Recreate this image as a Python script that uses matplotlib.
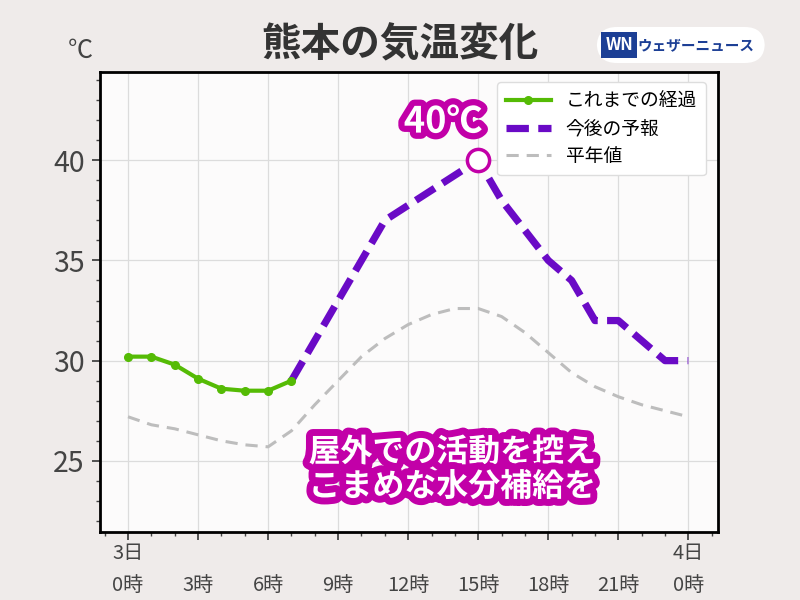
import matplotlib.pyplot as plt
import matplotlib.patheffects as pe
from matplotlib.patches import FancyBboxPatch
from matplotlib.ticker import MultipleLocator

plt.rcParams['font.family'] = ['Noto Sans CJK JP', 'DejaVu Sans']

# hours from 3日 0時
past_hours = [0, 1, 2, 3, 4, 5, 6, 7]
past_temp = [30.2, 30.2, 29.8, 29.1, 28.6, 28.5, 28.5, 29.0]

fc_hours = [7, 8, 9, 10, 11, 12, 13, 14, 15, 16, 17, 18, 19, 20, 21, 22, 23, 24]
fc_temp = [29.0, 31.0, 33.0, 35.0, 37.0, 37.75, 38.5, 39.25, 40.0,
           38.0, 36.5, 35.0, 34.0, 32.0, 32.0, 31.0, 30.0, 30.0]

norm_hours = list(range(25))
norm_temp = [27.2, 26.8, 26.6, 26.3, 26.0, 25.8, 25.7, 26.5, 27.8, 29.0,
             30.2, 31.1, 31.8, 32.3, 32.6, 32.6, 32.2, 31.4, 30.4, 29.4,
             28.7, 28.2, 27.8, 27.5, 27.2]

peak_hour = 15
peak_temp = 40.0

tick_hours = [0, 3, 6, 9, 12, 15, 18, 21, 24]
tick_labels = ['3日\n0時', '\n3時', '\n6時', '\n9時', '\n12時', '\n15時',
               '\n18時', '\n21時', '4日\n0時']

bg = '#efebea'
magenta = '#c200a8'
purple = '#6a0ac6'
green = '#55bb05'

fig = plt.figure(figsize=(8, 6), dpi=100, facecolor=bg)
ax = fig.add_axes([0.125, 0.1133, 0.7725, 0.7667])
ax.set_facecolor('#fcfbfb')

ax.plot(norm_hours, norm_temp, color='#bdbdbd', lw=2.2, dashes=(4, 2.6),
        label='平年値', zorder=2)
ax.plot(fc_hours, fc_temp, color=purple, lw=5.2, dashes=(3.1, 1.3),
        solid_capstyle='butt', dash_capstyle='butt', label='今後の予報', zorder=3)
ax.plot(past_hours, past_temp, color=green, lw=3, marker='o', ms=5.5,
        label='これまでの経過', zorder=4)
ax.plot([peak_hour], [peak_temp], marker='o', ms=16, mfc='white', mec=magenta,
        mew=2.5, zorder=5)

ax.text(13.5, 41.9, '40℃', fontsize=26, fontweight='bold', color='white',
        ha='center', va='center',
        path_effects=[pe.withStroke(linewidth=9, foreground=magenta)], zorder=6)
ax.text(13.9, 24.55, '屋外での活動を控え\nこまめな水分補給を', fontsize=23,
        fontweight='bold', color='white', ha='center', va='center',
        linespacing=1.1, path_effects=[pe.withStroke(linewidth=10, foreground=magenta)],
        zorder=6)

ax.set_xlim(-1.2, 25.27)
ax.set_ylim(21.45, 44.4)
ax.set_xticks(tick_hours)
ax.set_xticklabels(tick_labels, fontsize=14.5, color='#444444', linespacing=1.65)
ax.xaxis.set_minor_locator(MultipleLocator(1))
ax.set_yticks([25, 30, 35, 40])
ax.yaxis.set_minor_locator(MultipleLocator(1))
ax.tick_params(axis='y', labelsize=20.5, colors='#444444', length=6, width=1.3, pad=5)
ax.tick_params(axis='x', length=6, width=1.3, pad=2, colors='#444444')
ax.tick_params(which='minor', length=3, width=1, colors='#444444')
ax.grid(True, color='#dcdcdc', lw=0.9, zorder=0)
for s in ax.spines.values():
    s.set_linewidth(2)
    s.set_color('black')

handles, labels = ax.get_legend_handles_labels()
order = [2, 1, 0]
leg = ax.legend([handles[i] for i in order], [labels[i] for i in order],
                loc='upper right', fontsize=13.5, handlelength=2.4,
                borderpad=0.45, labelspacing=0.35, framealpha=1,
                edgecolor='#dddddd', bbox_to_anchor=(0.995, 0.998))
leg.set_zorder(7)

fig.text(0.5, 0.925, '熊本の気温変化', fontsize=28.5, fontweight='bold',
         color='#333333', ha='center', va='center')
fig.text(0.1, 0.915, '℃', fontsize=18, color='#444444', ha='center', va='center')

# logo
logo = FancyBboxPatch((0.746, 0.895), 0.21, 0.06,
                      boxstyle='round,pad=0,rounding_size=0.025',
                      transform=fig.transFigure, facecolor='white',
                      edgecolor='none', mutation_aspect=1.33)
fig.patches.append(logo)
fig.text(0.774, 0.925, 'WN', fontsize=12, fontweight='bold', style='italic',
         color='white', ha='center', va='center',
         bbox=dict(boxstyle='square,pad=0.25', facecolor='#1c3f95', edgecolor='none'))
fig.text(0.87, 0.925, 'ウェザーニュース', fontsize=10.5, fontweight='bold',
         color='#1c3f95', ha='center', va='center')

fig.savefig('out.png', dpi=100, facecolor=bg)
